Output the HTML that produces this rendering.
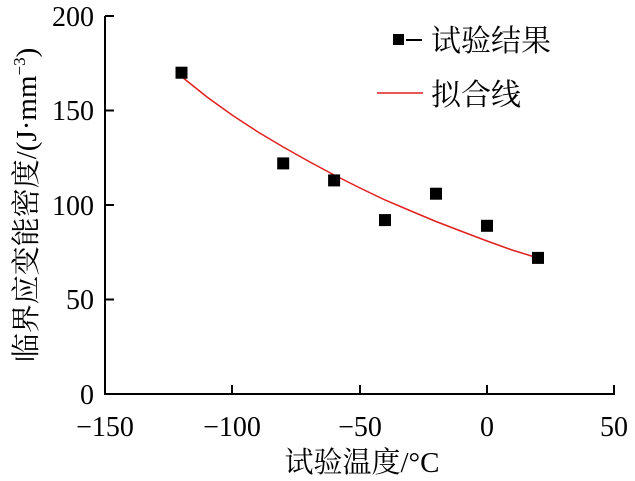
<!DOCTYPE html>
<html><head><meta charset="utf-8"><style>
body{margin:0;background:#fff}
svg text{font-family:"Liberation Serif","Noto Serif CJK SC",serif;fill:#000}
</style></head><body>
<svg width="635" height="476" viewBox="0 0 635 476" xmlns="http://www.w3.org/2000/svg">
<g stroke="#000" stroke-width="2" fill="none">
<polyline points="105,16 105,394 615,394"/>
<line x1="232" y1="394" x2="232" y2="385"/>
<line x1="360" y1="394" x2="360" y2="385"/>
<line x1="487" y1="394" x2="487" y2="385"/>
<line x1="614" y1="394" x2="614" y2="385"/>
<line x1="105" y1="16" x2="114" y2="16"/>
<line x1="105" y1="110.5" x2="114" y2="110.5"/>
<line x1="105" y1="205" x2="114" y2="205"/>
<line x1="105" y1="299.5" x2="114" y2="299.5"/>
</g>
<g font-size="28" text-anchor="end">
<text x="94" y="26">200</text>
<text x="94" y="120">150</text>
<text x="94" y="215">100</text>
<text x="94" y="309">50</text>
<text x="94" y="404">0</text>
</g>
<g font-size="28" text-anchor="middle">
<text x="105" y="436">−150</text>
<text x="232" y="436">−100</text>
<text x="360" y="436">−50</text>
<text x="487" y="436">0</text>
<text x="614" y="436">50</text>
</g>
<text x="362" y="472" font-size="29" text-anchor="middle">试验温度/°C</text>
<text transform="translate(36,205) rotate(-90)" font-size="29" text-anchor="middle">临界应变能密度/(J·mm<tspan font-size="17" dy="-11">−3</tspan><tspan dy="11">)</tspan></text>
<polyline fill="none" stroke="#e02020" stroke-width="1.5" points="176,72 181.4,76.5 207,97 232,115 258,132 283.2,147 309,161.5 334.1,175 360,188 385,200 411,211 436,221.5 462,231.5 487,241 512,250 538,258"/>
<g fill="#000">
<rect x="175.5" y="66.7" width="12" height="12"/>
<rect x="277.2" y="157.4" width="12" height="12"/>
<rect x="328.1" y="174.4" width="12" height="12"/>
<rect x="379" y="214.1" width="12" height="12"/>
<rect x="430" y="187.7" width="12" height="12"/>
<rect x="481" y="219.8" width="12" height="12"/>
<rect x="532" y="251.9" width="12" height="12"/>
<rect x="393" y="34" width="11" height="11"/>
</g>
<line x1="406" y1="40" x2="422" y2="40" stroke="#000" stroke-width="2"/>
<text x="431" y="51" font-size="30">试验结果</text>
<line x1="377" y1="93" x2="423" y2="93" stroke="#e02020" stroke-width="1.5"/>
<text x="431" y="105" font-size="30">拟合线</text>
</svg>
</body></html>
